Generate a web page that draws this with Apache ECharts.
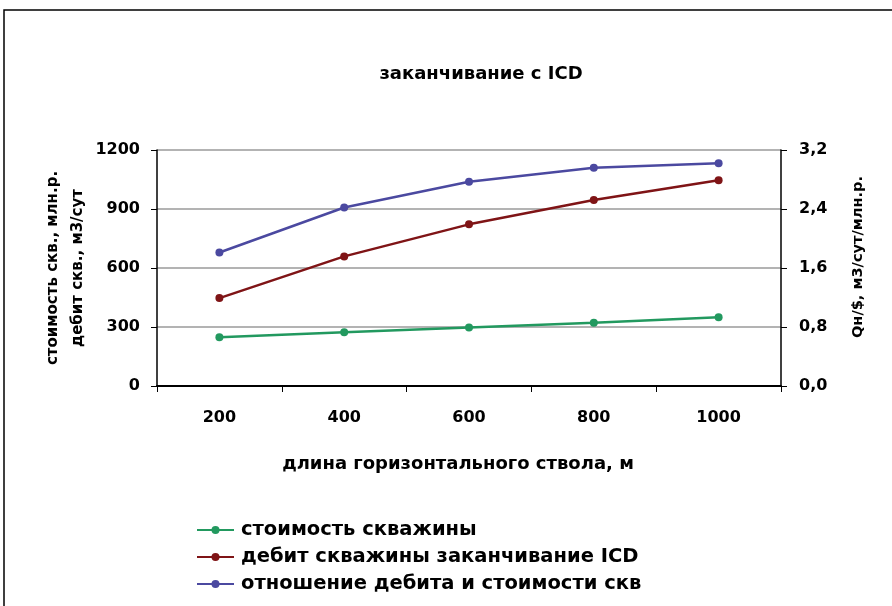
<!DOCTYPE html>
<html><head><meta charset="utf-8">
<script src="https://cdn.jsdelivr.net/npm/echarts@6/dist/echarts.min.js"></script>
<style>html,body{margin:0;padding:0;background:#fff}#c{width:892px;height:606px}</style>
</head><body><div id="c"></div>
<script>
const categories = ['200','400','600','800','1000'];
const costValues = [248, 273, 298, 322, 349];
const debitValues = [447, 659, 822, 946, 1046];
const ratioValues = [1.81, 2.42, 2.77, 2.96, 3.02];
const seriesNames = ['стоимость скважины','дебит скважины заканчивание ICD','отношение дебита и стоимости скв'];
const colors = ['#22995f','#7f1416','#4b49a0'];
const FF = '"DejaVu Sans", sans-serif';

const chart = echarts.init(document.getElementById('c'), null, {renderer:'canvas'});
chart.setOption({
  animation:false,
  backgroundColor:'#fff',
  title:{text:'заканчивание с ICD', left:476, top:60, textAlign:'center',
    textStyle:{fontFamily:FF, fontSize:18, fontWeight:'bold', color:'#000'}},
  graphic:[{type:'rect', shape:{x:4,y:10,width:900,height:620}, style:{fill:'none', stroke:'#000', lineWidth:1.5}, silent:true}],
  legend:{orient:'vertical', left:196, top:520, padding:0, itemGap:7, itemWidth:37, itemHeight:10,
    textStyle:{fontFamily:FF, fontSize:19.5, fontWeight:'bold', color:'#000', padding:[0,0,0,2]},
    data:seriesNames},
  grid:{left:157, right:111, top:150, bottom:220},
  xAxis:{type:'category', data:categories, boundaryGap:true,
    name:'длина горизонтального ствола, м', nameLocation:'middle', nameGap:69,
    nameTextStyle:{fontFamily:FF, fontSize:18, fontWeight:'bold', color:'#000', padding:[0,22,0,0]},
    axisLine:{lineStyle:{color:'#000', width:2}},
    axisTick:{show:true, length:6, lineStyle:{color:'#000'}, interval:0},
    axisLabel:{margin:24, fontFamily:FF, fontSize:16, fontWeight:'bold', color:'#000'}},
  yAxis:[{type:'value', min:0, max:1200, interval:300, position:'left',
    name:'стоимость скв., млн.р.\nдебит скв., м3/сут', nameLocation:'middle', nameGap:66, nameRotate:90,
    nameMoveOverlap:false,
    nameTextStyle:{fontFamily:FF, fontSize:15, fontWeight:'bold', color:'#000', lineHeight:25, align:'center'},
    axisLine:{show:true, lineStyle:{color:'#000', width:1.5}},
    axisTick:{show:true, length:6, lineStyle:{color:'#000'}},
    axisLabel:{margin:17, fontFamily:FF, fontSize:16, fontWeight:'bold', color:'#000',
      formatter:v=>String(v)},
    splitLine:{show:true, lineStyle:{color:'#9a9a9a', width:1.5}}},
   {type:'value', min:0, max:3.2, interval:0.8, position:'right',
    name:'Qн/$, м3/сут/млн.р.', nameLocation:'middle', nameGap:70, nameRotate:90,
    nameTextStyle:{fontFamily:FF, fontSize:14.6, fontWeight:'bold', color:'#000', padding:[0,0,0,22]},
    axisLine:{show:true, lineStyle:{color:'#000', width:1.5}},
    axisTick:{show:true, length:6, lineStyle:{color:'#000'}},
    axisLabel:{margin:18, fontFamily:FF, fontSize:16, fontWeight:'bold', color:'#000',
      formatter:v=>v.toFixed(1).replace('.',',')},
    splitLine:{show:false}}],
  series:[
    {name:seriesNames[0], type:'line', yAxisIndex:0, data:costValues, color:colors[0], symbol:'circle', symbolSize:8, lineStyle:{width:2.5}},
    {name:seriesNames[1], type:'line', yAxisIndex:0, data:debitValues, color:colors[1], symbol:'circle', symbolSize:8, lineStyle:{width:2.5}},
    {name:seriesNames[2], type:'line', yAxisIndex:1, data:ratioValues, color:colors[2], symbol:'circle', symbolSize:8, lineStyle:{width:2.5}}
  ]
});
</script></body></html>
